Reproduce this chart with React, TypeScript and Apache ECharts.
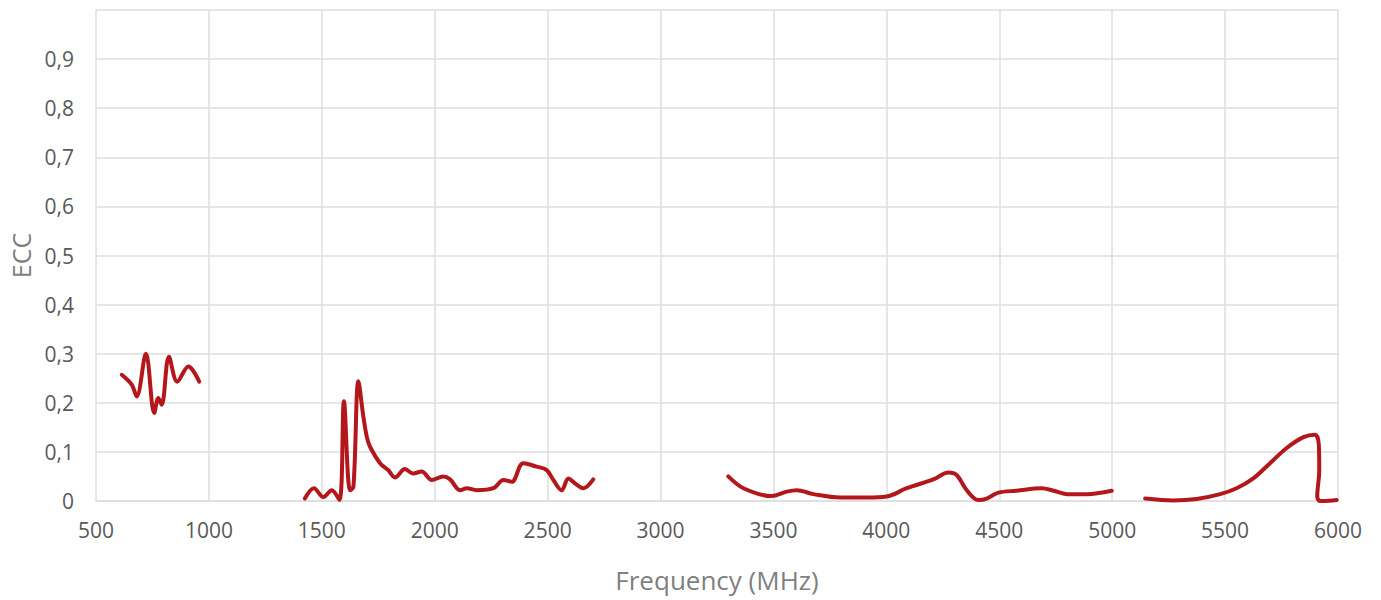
import React, { useEffect, useRef } from "react";
import * as echarts from "echarts";

// Band 1 (~600-960 MHz)
const band1Freq = [614, 658, 680, 721, 758, 776, 791, 823, 860, 909, 957];
const band1Ecc = [0.257, 0.237, 0.213, 0.3, 0.179, 0.21, 0.196, 0.294, 0.243, 0.274, 0.243];

// Band 2 (~1420-2700 MHz)
const band2Freq = [1425, 1465, 1507, 1544, 1578, 1598, 1625, 1640, 1662, 1684, 1699, 1713, 1758, 1794, 1824, 1868, 1905, 1942, 1987, 2038, 2068, 2112, 2142, 2186, 2260, 2304, 2341, 2392, 2451, 2496, 2525, 2562, 2592, 2621, 2658, 2702];
const band2Ecc = [0.005, 0.026, 0.008, 0.022, 0.002, 0.203, 0.022, 0.029, 0.244, 0.172, 0.131, 0.111, 0.077, 0.063, 0.048, 0.065, 0.056, 0.06, 0.043, 0.05, 0.044, 0.022, 0.026, 0.022, 0.026, 0.043, 0.039, 0.077, 0.07, 0.063, 0.043, 0.022, 0.046, 0.036, 0.026, 0.044];

// Band 3 (~3300-5000 MHz)
const band3Freq = [3300, 3367, 3492, 3559, 3603, 3677, 3795, 3913, 4001, 4090, 4208, 4275, 4311, 4356, 4407, 4444, 4496, 4577, 4688, 4740, 4799, 4887, 4998];
const band3Ecc = [0.05, 0.026, 0.01, 0.019, 0.022, 0.014, 0.007, 0.007, 0.009, 0.026, 0.044, 0.058, 0.053, 0.022, 0.002, 0.005, 0.017, 0.021, 0.026, 0.021, 0.014, 0.014, 0.021];

// Band 4 (~5150-6000 MHz)
const band4Freq = [5146, 5271, 5374, 5478, 5551, 5625, 5699, 5773, 5847, 5898, 5915, 5917, 5908, 5920, 5935, 5994];
const band4Ecc = [0.005, 0.001, 0.004, 0.014, 0.026, 0.046, 0.077, 0.108, 0.13, 0.135, 0.115, 0.063, 0.009, 0.0, 0.0, 0.002];

const xTicks = [500, 1000, 1500, 2000, 2500, 3000, 3500, 4000, 4500, 5000, 5500, 6000];

const LINE_COLOR = "#B3171C";
const GRID_COLOR = "#dedede";

function pairs(xs: number[], ys: number[]) {
  return xs.map((x, i) => [x, ys[i]]);
}

export default function App() {
  const ref = useRef<HTMLDivElement>(null);

  useEffect(() => {
    if (!ref.current) return;
    const chart = echarts.init(ref.current, undefined, { renderer: "svg" });
    const bands = [
      { f: band1Freq, e: band1Ecc },
      { f: band2Freq, e: band2Ecc },
      { f: band3Freq, e: band3Ecc },
      { f: band4Freq, e: band4Ecc },
    ];
    chart.setOption({
      animation: false,
      backgroundColor: "#ffffff",
      grid: { left: 96, right: 43, top: 10, bottom: 99, containLabel: false },
      xAxis: {
        type: "value",
        min: xTicks[0],
        max: xTicks[xTicks.length - 1],
        interval: 500,
        name: "Frequency (MHz)",
        nameLocation: "middle",
        nameGap: 66,
        nameTextStyle: { fontFamily: "Open Sans", fontSize: 26, color: "#7f7f7f" },
        axisLine: { show: true, lineStyle: { color: GRID_COLOR, width: 1.5 } },
        axisTick: { show: false },
        axisLabel: {
          fontFamily: "Open Sans",
          fontSize: 21,
          color: "#595959",
          margin: 18,
          formatter: (v: number) => String(v),
        },
        splitLine: { show: true, lineStyle: { color: GRID_COLOR, width: 1.5 } },
      },
      yAxis: {
        type: "value",
        min: 0,
        max: 1,
        interval: 0.1,
        name: "ECC",
        nameLocation: "middle",
        nameGap: 62,
        nameTextStyle: { fontFamily: "Open Sans", fontSize: 25, color: "#7f7f7f" },
        axisLine: { show: false },
        axisTick: { show: false },
        axisLabel: {
          fontFamily: "Open Sans",
          fontSize: 21,
          color: "#595959",
          margin: 22,
          formatter: (v: number) => {
            if (v >= 0.999) return "";
            if (v === 0) return "0";
            return v.toFixed(1).replace(".", ",");
          },
        },
        splitLine: { show: true, lineStyle: { color: GRID_COLOR, width: 1.5 } },
      },
      series: bands.map((b) => ({
        type: "line",
        data: pairs(b.f, b.e),
        smooth: 0.35,
        showSymbol: false,
        symbol: "none",
        lineStyle: { color: LINE_COLOR, width: 4, cap: "round", join: "round" },
        itemStyle: { color: LINE_COLOR },
      })),
    });
    return () => chart.dispose();
  }, []);

  return (
    <div
      ref={ref}
      style={{ position: "fixed", left: 0, top: 0, width: 1381, height: 600 }}
    />
  );
}
